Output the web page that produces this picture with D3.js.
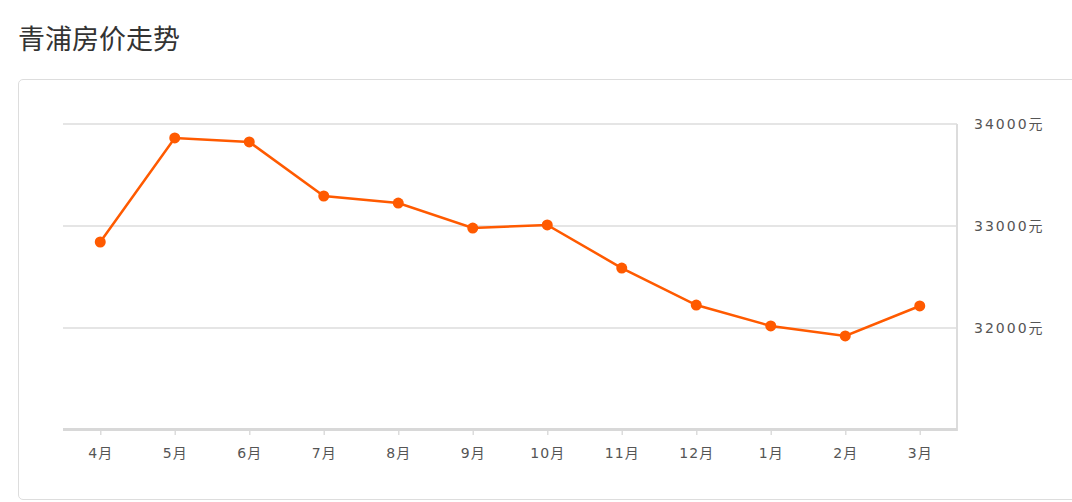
<!DOCTYPE html>
<meta charset="utf-8">
<style>
body { margin: 0; background: #fff; font-family: "Noto Sans CJK SC", "Noto Sans", sans-serif; }
.title { position: absolute; left: 18px; top: 19px; font-size: 27px; color: #333; margin: 0; font-weight: normal; line-height: 38px; }
.card { position: absolute; left: 18px; top: 79px; width: 1070px; height: 421px; border: 1px solid #ddd; border-radius: 5px; box-sizing: border-box; }
#chart { position: absolute; left: 0; top: 0; }
.tick text { font-family: "DejaVu Sans", "Noto Sans CJK SC", sans-serif; fill: #555; font-size: 14px; letter-spacing: 1px; }
.ylab .tick text { letter-spacing: 2px; }
</style>
<body>
<h3 class="title">青浦房价走势</h3>
<div class="card"></div>
<div id="chart"></div>
<script src="https://d3js.org/d3.v7.min.js"></script>
<script>
// months and average price (元/㎡)
var months = ["4月", "5月", "6月", "7月", "8月", "9月", "10月", "11月", "12月", "1月", "2月", "3月"];
var prices = [32843, 33863, 33824, 33294, 33225, 32980, 33010, 32588, 32225, 32020, 31922, 32216];
var yTicks = [32000, 33000, 34000];

var W = 1072, H = 502;
var plotLeft = 63, plotRight = 957, plotTop = 124, plotBottom = 430;

var svg = d3.select("#chart").append("svg")
    .attr("width", W)
    .attr("height", H);

var x = d3.scalePoint().domain(months).range([plotLeft, plotRight]).padding(0.5);
var y = d3.scaleLinear().domain([31000, 34000]).range([plotBottom, plotTop]);

// grid lines
svg.append("g")
  .selectAll("line")
  .data(yTicks)
  .enter().append("line")
    .attr("x1", plotLeft).attr("x2", plotRight)
    .attr("y1", function(d) { return y(d); })
    .attr("y2", function(d) { return y(d); })
    .attr("stroke", "#dcdcdc")
    .attr("stroke-width", 1.5);

// right border
svg.append("line")
    .attr("x1", plotRight).attr("x2", plotRight)
    .attr("y1", plotTop).attr("y2", plotBottom + 1)
    .attr("stroke", "#dcdcdc")
    .attr("stroke-width", 2);

// y labels on the right
var yAxis = svg.append("g")
    .attr("class", "ylab")
    .attr("transform", "translate(" + (plotRight + 17) + ",0)")
    .call(d3.axisRight(y).tickValues(yTicks).tickSize(0).tickPadding(0)
      .tickFormat(function(d) { return d + "元"; }));
yAxis.select(".domain").remove();

// x axis
var xAxis = svg.append("g")
    .attr("transform", "translate(0," + (plotBottom - 1) + ")")
    .call(d3.axisBottom(x).tickSize(6).tickPadding(13).tickSizeOuter(0));
xAxis.select(".domain").remove();
xAxis.selectAll(".tick line").attr("stroke", "#dcdcdc").attr("stroke-width", 1.5);
svg.append("line")
    .attr("x1", plotLeft).attr("x2", plotRight)
    .attr("y1", plotBottom - 0.5).attr("y2", plotBottom - 0.5)
    .attr("stroke", "#d8d8d8")
    .attr("stroke-width", 3);

var data = months.map(function(m, i) { return {m: m, v: prices[i]}; });

var line = d3.line()
    .x(function(d) { return x(d.m); })
    .y(function(d) { return y(d.v); });

svg.append("path")
    .datum(data)
    .attr("fill", "none")
    .attr("stroke", "#ff5a00")
    .attr("stroke-width", 2.5)
    .attr("d", line);

svg.append("g")
  .selectAll("circle")
  .data(data)
  .enter().append("circle")
    .attr("cx", function(d) { return x(d.m); })
    .attr("cy", function(d) { return y(d.v); })
    .attr("r", 5.5)
    .attr("fill", "#ff5a00");
</script>
</body>
